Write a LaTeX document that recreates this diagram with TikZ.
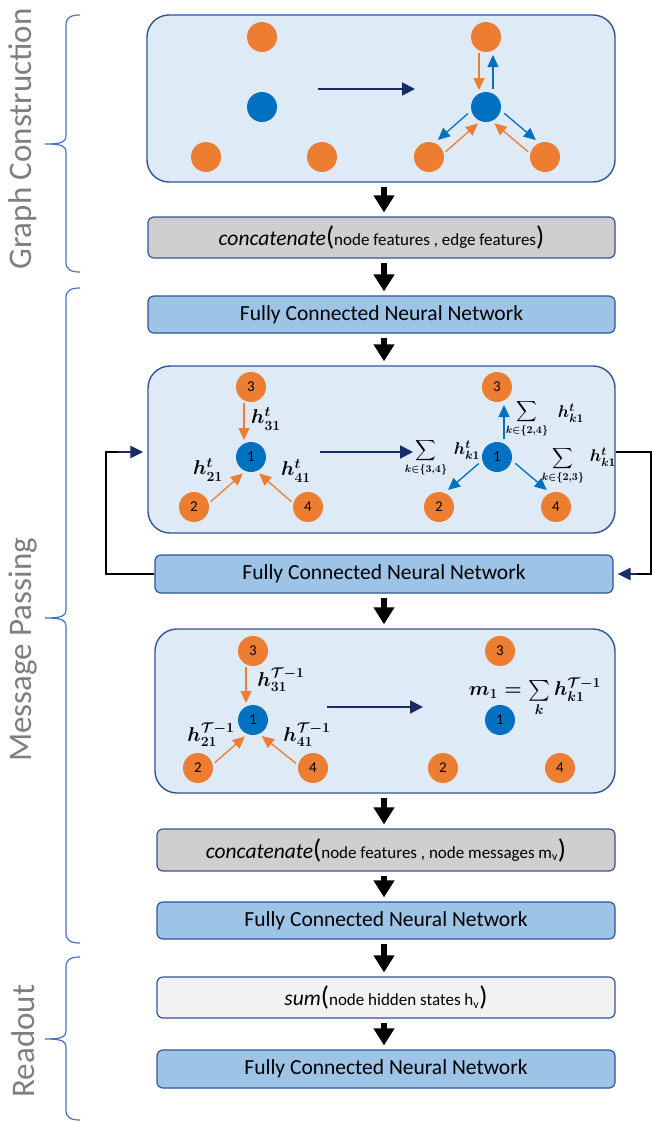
\documentclass[tikz,border=0pt]{standalone}
\usepackage{fix-cm}
\usepackage{exscale}
\usepackage{fontspec}
\setmainfont{Carlito}
\usetikzlibrary{arrows.meta,calc}
\definecolor{gnnorange}{HTML}{ED7D31}
\definecolor{gnnblue}{HTML}{0070C0}
\definecolor{gnnnavy}{HTML}{172C66}
\definecolor{gnnpanel}{HTML}{DEEBF7}
\definecolor{gnnedge}{HTML}{2F5597}
\definecolor{gnnfc}{HTML}{9DC3E6}
\definecolor{gnngray}{HTML}{D0CECE}
\definecolor{gnnlight}{HTML}{F2F2F2}
\definecolor{gnntext}{HTML}{7F7F7F}
\definecolor{gnnbrace}{HTML}{4472C4}
\tikzset{
  gnn/panel/.style={
    draw=gnnedge, fill=gnnpanel, line width=1.4pt, rounded corners=22pt, inner sep=0pt
  },
  gnn/box/.style={
    draw=gnnedge, line width=1.2pt, rounded corners=6pt, inner sep=0pt,
    font=\fontsize{21.5}{25}\selectfont
  },
  gnn/fc/.style={gnn/box, fill=gnnfc},
  gnn/cat/.style={gnn/box, fill=gnngray},
  gnn/agg/.style={gnn/box, fill=gnnlight},
  gnn/or/.style={circle, fill=gnnorange, minimum size=30pt, inner sep=0pt,
    font=\fontsize{15}{18}\selectfont},
  gnn/bl/.style={circle, fill=gnnblue, minimum size=30pt, inner sep=0pt,
    font=\fontsize{15}{18}\selectfont},
  gnn/lab/.style={inner sep=0pt, font=\fontsize{20}{23}\selectfont\boldmath},
  gnn/labs/.style={inner sep=0pt, font=\fontsize{15}{18}\selectfont\boldmath},
  gnn/labh/.style={inner sep=0pt, font=\fontsize{17}{20}\selectfont\boldmath},
  gnn/side/.style={text=gnntext, rotate=90, inner sep=0pt, font=\fontsize{33}{36}\selectfont},
  gnn/flow/.style={-{Triangle[width=20pt,length=17pt]}, line width=6pt, black,
    shorten <=4pt, shorten >=4pt},
  gnn/stepto/.style={-{Triangle[width=13pt,length=13pt]}, gnnnavy, line width=2pt},
  gnn/orarr/.style={-{Triangle[width=11pt,length=12pt]}, gnnorange, line width=1.3pt,
    shorten <=16pt, shorten >=17pt},
  gnn/blarr/.style={-{Triangle[width=11pt,length=12pt]}, gnnblue, line width=1.3pt,
    shorten <=18pt, shorten >=18pt},
  gnn/loop/.style={black, line width=2.5pt},
  gnn/back/.style={-{Triangle[width=12pt,length=13pt]}, gnnnavy, line width=2.5pt,
    shorten >=4pt},
  gnn/brace/.style={gnnbrace, line width=1.2pt}
}
\newcommand{\gnnpar}[1]{{\fontsize{27}{27}\selectfont #1}}
\newcommand{\gnnsmall}[1]{{\fontsize{17}{20}\selectfont #1}}

\begin{document}
\begin{tikzpicture}[x=1pt, y=-1pt]
  \useasboundingbox (0,0) rectangle (652,1122);
  \coordinate (ax) at (384,0);

  % stage boxes
  \node[gnn/panel, minimum width=468pt, minimum height=167pt] (gp) at (381,98.5) {};
  \node[gnn/cat, minimum width=467pt, minimum height=41pt] (c1) at (381.5,237.5)
    {\itshape concatenate\upshape\gnnpar{(}\gnnsmall{node features , edge features}\gnnpar{)}};
  \node[gnn/fc, minimum width=467pt, minimum height=37pt] (f1) at (381.5,314.5)
    {Fully Connected Neural Network};
  \node[gnn/panel, minimum width=467pt, minimum height=167pt] (mp) at (381.5,449.5) {};
  \node[gnn/fc, minimum width=458pt, minimum height=38pt] (f2) at (384,574)
    {Fully Connected Neural Network};
  \node[gnn/panel, minimum width=460pt, minimum height=164pt] (ap) at (385,711) {};
  \node[gnn/cat, minimum width=458pt, minimum height=42pt] (c2) at (386,850)
    {\itshape concatenate\upshape\gnnpar{(}\gnnsmall{node features , node messages m\textsubscript{v}}\gnnpar{)}};
  \node[gnn/fc, minimum width=458pt, minimum height=37pt] (f3) at (386,920.5)
    {Fully Connected Neural Network};
  \node[gnn/agg, minimum width=458pt, minimum height=41pt] (s1) at (386,997.5)
    {\itshape sum\upshape\gnnpar{(}\gnnsmall{node hidden states h\textsubscript{v}}\gnnpar{)}};
  \node[gnn/fc, minimum width=458pt, minimum height=38pt] (f4) at (386,1069)
    {Fully Connected Neural Network};

  \foreach \a/\b in {gp/c1, c1/f1, f1/mp, f2/ap, ap/c2, c2/f3, f3/s1, s1/f4}
    \draw[gnn/flow] (\a.south -| ax) -- (\b.north -| ax);

  % graph construction
  \node[gnn/or] (g1t) at (262,37) {};
  \node[gnn/bl] (g1c) at (262,107) {};
  \node[gnn/or] (g1l) at (206,157) {};
  \node[gnn/or] (g1r) at (322,157) {};
  \coordinate (g1s) at (318,89);
  \coordinate (g1e) at (415,89);
  \draw[gnn/stepto] (g1s) -- (g1e);
  \node[gnn/or] (g2t) at (486,37) {};
  \node[gnn/bl] (g2c) at (486,107) {};
  \node[gnn/or] (g2l) at (429,157) {};
  \node[gnn/or] (g2r) at (545,157) {};
  \draw[gnn/orarr] ($(g2t)!7pt!-90:(g2c)$) -- ($(g2c)!7pt!90:(g2t)$);
  \draw[gnn/blarr] ($(g2c)!7pt!-90:(g2t)$) -- ($(g2t)!7pt!90:(g2c)$);
  \draw[gnn/orarr] ($(g2l)!7pt!-90:(g2c)$) -- ($(g2c)!7pt!90:(g2l)$);
  \draw[gnn/blarr] ($(g2c)!7pt!-90:(g2l)$) -- ($(g2l)!7pt!90:(g2c)$);
  \draw[gnn/orarr] ($(g2r)!7pt!90:(g2c)$) -- ($(g2c)!7pt!-90:(g2r)$);
  \draw[gnn/blarr] ($(g2c)!7pt!90:(g2r)$) -- ($(g2r)!7pt!-90:(g2c)$);

  % message passing, step t
  \node[gnn/or] (m1t) at (251,387) {3};
  \node[gnn/bl] (m1c) at (251,457) {1};
  \node[gnn/or] (m1l) at (194,507) {2};
  \node[gnn/or] (m1r) at (308,507) {4};
  \draw[gnn/orarr] ($(m1t)!7pt!-90:(m1c)$) -- ($(m1c)!7pt!90:(m1t)$);
  \draw[gnn/orarr] ($(m1l)!7pt!-90:(m1c)$) -- ($(m1c)!7pt!90:(m1l)$);
  \draw[gnn/orarr] ($(m1r)!7pt!90:(m1c)$) -- ($(m1c)!7pt!-90:(m1r)$);
  \node[gnn/lab] (m1h3) at (266,419) {$h^t_{31}$};
  \node[gnn/lab] (m1h2) at (208,470) {$h^t_{21}$};
  \node[gnn/lab] (m1h4) at (296,471) {$h^t_{41}$};
  \coordinate (m1s) at (320,452);
  \coordinate (m1e) at (413,452);
  \draw[gnn/stepto] (m1s) -- (m1e);
  \node[gnn/or] (m2t) at (497,387) {3};
  \node[gnn/bl] (m2c) at (497,457) {1};
  \node[gnn/or] (m2l) at (439,507) {2};
  \node[gnn/or] (m2r) at (556,507) {4};
  \draw[gnn/blarr] ($(m2c)!7pt!-90:(m2t)$) -- ($(m2t)!7pt!90:(m2c)$);
  \draw[gnn/blarr] ($(m2c)!7pt!-90:(m2l)$) -- ($(m2l)!7pt!90:(m2c)$);
  \draw[gnn/blarr] ($(m2c)!7pt!90:(m2r)$) -- ($(m2r)!7pt!-90:(m2c)$);
  \node[gnn/labs] (m2s3) at (426,458) {$\displaystyle\sum_{k\in\{3,4\}}$};
  \node[gnn/labh] (m2hl) at (467,450) {$h^t_{k1}$};
  \node[gnn/labs] (m2s2) at (527,419) {$\displaystyle\sum_{k\in\{2,4\}}$};
  \node[gnn/labh] (m2ht) at (571,413) {$h^t_{k1}$};
  \node[gnn/labs] (m2s4) at (563,466) {$\displaystyle\sum_{k\in\{2,3\}}$};
  \node[gnn/labh] (m2hr) at (603,457) {$h^t_{k1}$};

  % loop back to the message passing step
  \coordinate (lpL) at (106,452);
  \coordinate (lpR) at (651,452);
  \draw[gnn/loop] (f2.west) -| (lpL) -- ++(12,0) coordinate (lpLe);
  \draw[gnn/back] (lpLe) -- (lpLe -| mp.west);
  \draw[gnn/loop] (mp.east |- lpR) -| (lpR |- f2.east) -- ++(-14,0) coordinate (lpRe);
  \draw[gnn/back] (lpRe) -- (f2.east);

  % message passing, last step
  \node[gnn/or] (a1t) at (253,651) {3};
  \node[gnn/bl] (a1c) at (253,720) {1};
  \node[gnn/or] (a1l) at (198,768) {2};
  \node[gnn/or] (a1r) at (313,768) {4};
  \draw[gnn/orarr] ($(a1t)!7pt!-90:(a1c)$) -- ($(a1c)!7pt!90:(a1t)$);
  \draw[gnn/orarr] ($(a1l)!7pt!-90:(a1c)$) -- ($(a1c)!7pt!90:(a1l)$);
  \draw[gnn/orarr] ($(a1r)!7pt!90:(a1c)$) -- ($(a1c)!7pt!-90:(a1r)$);
  \node[gnn/lab] (a1h3) at (281,680) {$h^{\mathcal{T}-1}_{31}$};
  \node[gnn/lab] (a1h2) at (211,735) {$h^{\mathcal{T}-1}_{21}$};
  \node[gnn/lab] (a1h4) at (307,735) {$h^{\mathcal{T}-1}_{41}$};
  \coordinate (a1s) at (327,707);
  \coordinate (a1e) at (423,707);
  \draw[gnn/stepto] (a1s) -- (a1e);
  \node[gnn/or] (a2t) at (500,651) {3};
  \node[gnn/bl] (a2c) at (500,720) {1};
  \node[gnn/or] (a2l) at (443,768) {2};
  \node[gnn/or] (a2r) at (560,768) {4};
  \node[gnn/lab] (a2m) at (535,697) {$m_1=\sum\limits_k h^{\mathcal{T}-1}_{k1}$};

  % stage braces
  \foreach \btop/\bmid/\bbot in {15/144/272, 288/618/943, 957/1039/1120}
    \draw[gnn/brace] (80,\btop) .. controls (70,\btop) and (66,\btop+3) .. (66,\btop+10)
      -- (66,\bmid-8) .. controls (66,\bmid-2) and (62,\bmid) .. (45,\bmid)
      .. controls (62,\bmid) and (66,\bmid+2) .. (66,\bmid+8)
      -- (66,\bbot-10) .. controls (66,\bbot-3) and (70,\bbot) .. (80,\bbot);
  \node[gnn/side] (lbG) at (23,139) {Graph Construction};
  \node[gnn/side] (lbM) at (23,650) {Message Passing};
  \node[gnn/side] (lbR) at (23,1041) {Readout};
\end{tikzpicture}
\end{document}
